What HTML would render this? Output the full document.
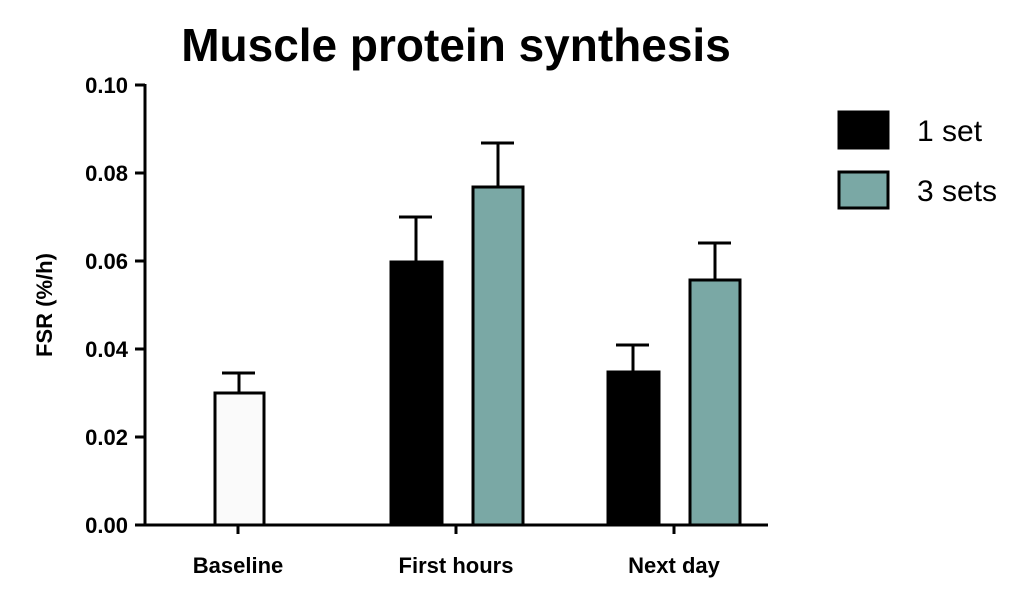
<!DOCTYPE html>
<html><head><style>body{margin:0;background:#fff}svg{display:block}</style></head>
<body>
<svg width="1024" height="596" xmlns="http://www.w3.org/2000/svg" font-family="Liberation Sans, sans-serif">
<text x="456" y="61" font-size="46" font-weight="bold" text-anchor="middle">Muscle protein synthesis</text>
<g stroke="#000" stroke-width="3" fill="none">
<line x1="145" y1="84" x2="145" y2="526"/>
<line x1="135" y1="525" x2="768" y2="525"/>
<line x1="135" y1="85" x2="145" y2="85"/>
<line x1="135" y1="173" x2="145" y2="173"/>
<line x1="135" y1="261" x2="145" y2="261"/>
<line x1="135" y1="349" x2="145" y2="349"/>
<line x1="135" y1="437" x2="145" y2="437"/>
<line x1="238" y1="525" x2="238" y2="534"/>
<line x1="456" y1="525" x2="456" y2="534"/>
<line x1="674" y1="525" x2="674" y2="534"/>
<line x1="239" y1="393" x2="239" y2="373"/><line x1="222" y1="373" x2="255" y2="373"/>
<line x1="416" y1="262" x2="416" y2="217"/><line x1="399" y1="217" x2="432" y2="217"/>
<line x1="498" y1="187" x2="498" y2="143"/><line x1="481" y1="143" x2="514" y2="143"/>
<line x1="633" y1="372" x2="633" y2="345"/><line x1="616" y1="345" x2="649" y2="345"/>
<line x1="715" y1="280" x2="715" y2="243"/><line x1="698" y1="243" x2="731" y2="243"/>
</g>
<g stroke="#000" stroke-width="3">
<rect x="215" y="393" width="49" height="132" fill="#fafafa"/>
<rect x="391" y="262" width="51" height="263" fill="#000"/>
<rect x="473" y="187" width="50" height="338" fill="#7aa8a5"/>
<rect x="608" y="372" width="51" height="153" fill="#000"/>
<rect x="690" y="280" width="50" height="245" fill="#7aa8a5"/>
<rect x="839" y="112" width="49" height="36" fill="#000"/>
<rect x="839" y="172" width="49" height="36" fill="#7aa8a5"/>
</g>
<g font-size="22" font-weight="bold" text-anchor="end">
<text x="128" y="93">0.10</text><text x="128" y="181">0.08</text><text x="128" y="269">0.06</text>
<text x="128" y="357">0.04</text><text x="128" y="445">0.02</text><text x="128" y="533">0.00</text>
</g>
<g font-size="22" font-weight="bold" text-anchor="middle">
<text x="238" y="573">Baseline</text><text x="456" y="573">First hours</text><text x="674" y="573">Next day</text>
</g>
<text transform="translate(52,305) rotate(-90)" font-size="22" font-weight="bold" text-anchor="middle">FSR (%/h)</text>
<text x="917" y="141" font-size="30">1 set</text>
<text x="917" y="201" font-size="30">3 sets</text>
</svg>
</body></html>
